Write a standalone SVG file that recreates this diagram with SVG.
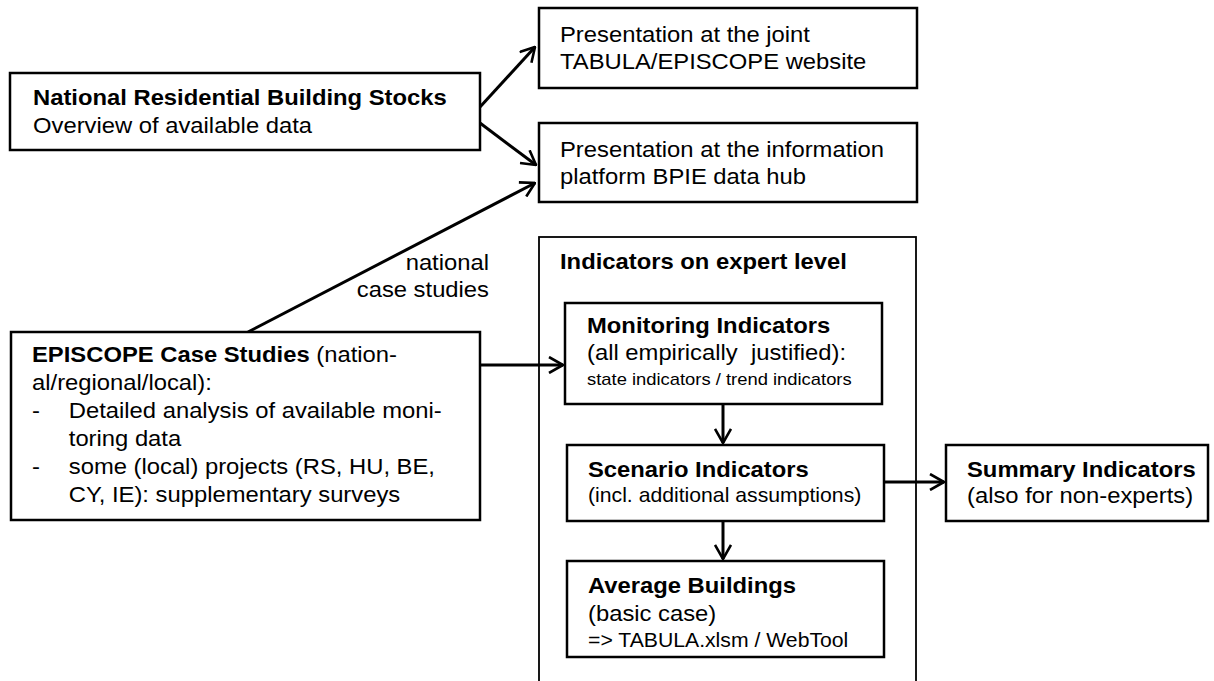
<svg xmlns="http://www.w3.org/2000/svg" width="1214" height="681" viewBox="0 0 1214 681">
<style>
.box{fill:#fff;stroke:#000;stroke-width:2.5}
.outer{fill:none;stroke:#000;stroke-width:1.8}
.t{font-family:"Liberation Sans",Arial,sans-serif;font-size:22px;fill:#000}
.b{font-weight:bold}
.s{font-size:17px}
.m{font-size:19.6px}
.con{fill:none;stroke:#000;stroke-width:3}
</style>
<defs>
<marker id="ah" viewBox="0 0 16 18" refX="15" refY="9" markerWidth="16" markerHeight="18" markerUnits="userSpaceOnUse" orient="auto">
<path d="M1,1 L15,9 L1,17" fill="none" stroke="#000" stroke-width="2.6"/>
</marker>
</defs>
<g id="connectors">
<line class="con" x1="480" y1="107" x2="535" y2="47" marker-end="url(#ah)"/>
<line class="con" x1="480" y1="123" x2="536" y2="165" marker-end="url(#ah)"/>
<line class="con" x1="248" y1="332" x2="535" y2="183" marker-end="url(#ah)"/>
<line class="con" x1="480" y1="365" x2="563" y2="365" marker-end="url(#ah)"/>
<line class="con" x1="723" y1="404" x2="723" y2="443" marker-end="url(#ah)"/>
<line class="con" x1="884" y1="482" x2="944" y2="482" marker-end="url(#ah)"/>
<line class="con" x1="723" y1="521" x2="723" y2="559" marker-end="url(#ah)"/>
<g transform="translate(489,0) scale(1.082,1)">
<text class="t" x="0" y="270" text-anchor="end">national</text>
<text class="t" x="0" y="297" text-anchor="end">case studies</text>
</g>
</g>
<g id="national-stocks">
<rect class="box" x="10" y="73" width="470" height="77"/>
<g transform="translate(33,0) scale(1.082,1)">
<text class="t b" x="0" y="105">National Residential Building Stocks</text>
<text class="t" x="0" y="133">Overview of available data</text>
</g>
</g>
<g id="presentation-website">
<rect class="box" x="539" y="8" width="378" height="80"/>
<g transform="translate(560,0) scale(1.082,1)">
<text class="t" x="0" y="42">Presentation at the joint</text>
<text class="t" x="0" y="69">TABULA/EPISCOPE website</text>
</g>
</g>
<g id="presentation-bpie">
<rect class="box" x="539" y="123" width="378" height="79"/>
<g transform="translate(560,0) scale(1.082,1)">
<text class="t" x="0" y="157">Presentation at the information</text>
<text class="t" x="0" y="184">platform BPIE data hub</text>
</g>
</g>
<g id="episcope-case-studies">
<rect class="box" x="11" y="332" width="469" height="188"/>
<g transform="translate(32,0) scale(1.082,1)">
<text class="t" x="0" y="362"><tspan class="b">EPISCOPE Case Studies</tspan> (nation-</text>
<text class="t" x="0" y="390">al/regional/local):</text>
<text class="t" x="0" y="418">-</text>
<text class="t" x="34" y="418">Detailed analysis of available moni-</text>
<text class="t" x="34" y="446">toring data</text>
<text class="t" x="0" y="474">-</text>
<text class="t" x="34" y="474">some (local) projects (RS, HU, BE,</text>
<text class="t" x="34" y="502">CY, IE): supplementary surveys</text>
</g>
</g>
<g id="indicators-expert">
<rect class="outer" x="539" y="237" width="377" height="460"/>
<g transform="translate(560,0) scale(1.082,1)">
<text class="t b" x="0" y="269">Indicators on expert level</text>
</g>
</g>
<g id="monitoring-indicators">
<rect class="box" x="565" y="303" width="317" height="101"/>
<g transform="translate(587,0) scale(1.082,1)">
<text class="t b" x="0" y="333">Monitoring Indicators</text>
<text class="t" x="0" y="360" xml:space="preserve">(all empirically  justified):</text>
<text class="t s" x="0" y="385">state indicators / trend indicators</text>
</g>
</g>
<g id="scenario-indicators">
<rect class="box" x="567" y="445" width="317" height="76"/>
<g transform="translate(588,0) scale(1.082,1)">
<text class="t b" x="0" y="477">Scenario Indicators</text>
<text class="t m" x="0" y="502">(incl. additional assumptions)</text>
</g>
</g>
<g id="average-buildings">
<rect class="box" x="567" y="561" width="317" height="96"/>
<g transform="translate(588,0) scale(1.082,1)">
<text class="t b" x="0" y="593">Average Buildings</text>
<text class="t" x="0" y="621">(basic case)</text>
<text class="t m" x="0" y="647">=&gt; TABULA.xlsm / WebTool</text>
</g>
</g>
<g id="summary-indicators">
<rect class="box" x="946" y="445" width="262" height="76"/>
<g transform="translate(967,0) scale(1.082,1)">
<text class="t b" x="0" y="477">Summary Indicators</text>
<text class="t" x="0" y="503">(also for non-experts)</text>
</g>
</g>
</svg>
